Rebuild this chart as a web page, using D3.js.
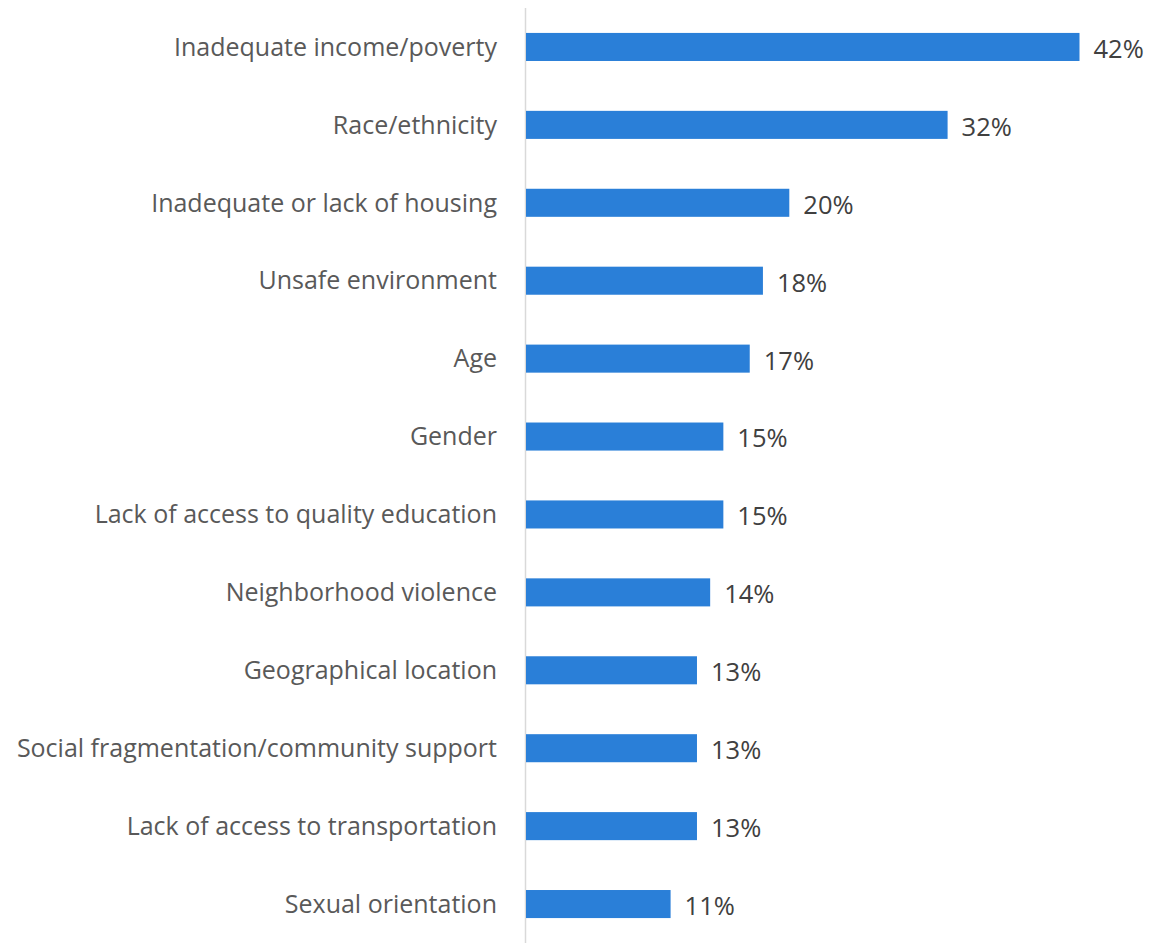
<!DOCTYPE html>
<html><head><meta charset="utf-8">
<script src="https://cdn.jsdelivr.net/npm/d3@7"></script>
<style>body{margin:0;background:#fff;} svg{display:block;}</style>
</head><body>
<svg id="chart" width="1153" height="943"></svg>
<script>
const categories = ["Inadequate income/poverty","Race/ethnicity","Inadequate or lack of housing","Unsafe environment","Age","Gender","Lack of access to quality education","Neighborhood violence","Geographical location","Social fragmentation/community support","Lack of access to transportation","Sexual orientation"];
const values = [42,32,20,18,17,15,15,14,13,13,13,11];

const svg = d3.select("#chart");
const axisX = 525.5;
const x = d3.scaleLinear().domain([0, 42]).range([axisX, 1079.5]);
const y = d3.scaleBand().domain(categories).range([8, 943]).paddingInner(0.64).paddingOuter(0.32);
const font = "'Open Sans', sans-serif";

svg.append("line").attr("x1", axisX).attr("x2", axisX).attr("y1", 8).attr("y2", 943)
  .attr("stroke", "#d9d9d9").attr("stroke-width", 1.5);

svg.selectAll("rect.bar").data(categories).join("rect").attr("class","bar")
  .attr("x", x(0)+0.5).attr("y", d => y(d)).attr("height", y.bandwidth())
  .attr("width", (d,i) => x(values[i]) - x(0) - 0.5).attr("fill", "#2a7fd8");

svg.selectAll("text.cat").data(categories).join("text").attr("class","cat")
  .attr("x", 497).attr("y", d => y(d) + y.bandwidth()/2).attr("dy","0.35em")
  .attr("text-anchor","end").attr("font-family", font).attr("font-size", 25)
  .attr("fill", "#595959").text(d => d);

svg.selectAll("text.val").data(categories).join("text").attr("class","val")
  .attr("x", (d,i) => x(values[i]) + 14).attr("y", d => y(d) + y.bandwidth()/2 + 2).attr("dy","0.35em")
  .attr("font-family", font).attr("font-size", 25.5)
  .attr("fill", "#404040").text((d,i) => values[i] + "%");
</script>
</body></html>
